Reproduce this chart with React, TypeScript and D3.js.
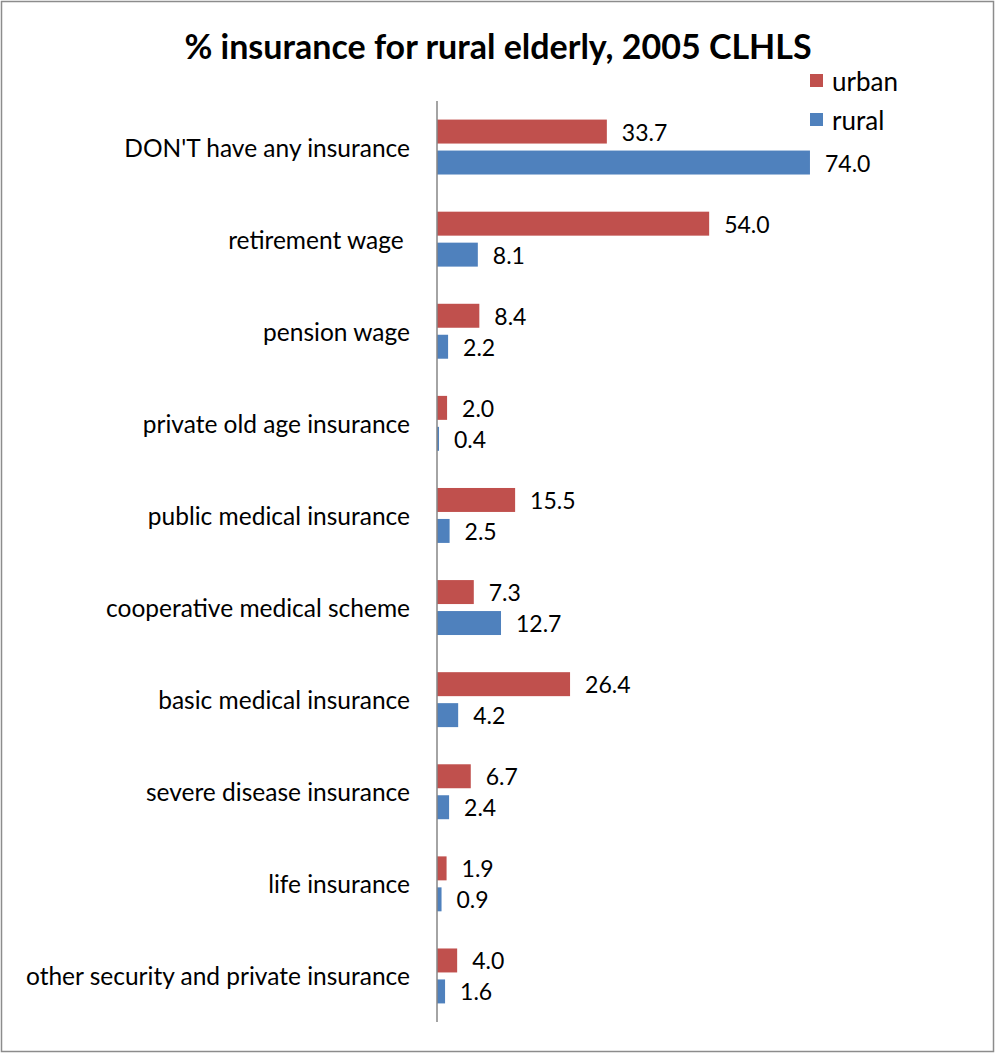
import React from "react";
import * as d3 from "d3";

const categories = [
  "DON'T have any insurance",
  "retirement wage ",
  "pension wage",
  "private old age insurance",
  "public medical insurance",
  "cooperative medical scheme",
  "basic medical insurance",
  "severe disease insurance",
  "life insurance",
  "other security and private insurance",
];
const urban = [33.7, 54.0, 8.4, 2.0, 15.5, 7.3, 26.4, 6.7, 1.9, 4.0];
const rural = [74.0, 8.1, 2.2, 0.4, 2.5, 12.7, 4.2, 2.4, 0.9, 1.6];
const seriesNames = ["urban", "rural"];
const seriesColors = ["#C0504D", "#4F81BD"];
const title = "% insurance for rural elderly, 2005 CLHLS";

const W = 995;
const H = 1053;
const FONT = "Lato, 'Liberation Sans', Arial, sans-serif";

export default function App() {
  const x = d3.scaleLinear().domain([0, 80]).range([437, 437 + 80 * 5.04]);
  const y = d3.scaleBand<string>().domain(categories).range([101, 1022]);
  const y1 = d3
    .scaleBand<string>()
    .domain(seriesNames)
    .range([0, y.step()])
    .paddingInner(0.226)
    .paddingOuter(0.6);
  const values = [urban, rural];

  return (
    <svg
      width={W}
      height={H}
      style={{ position: "absolute", left: 0, top: 0, background: "#fff" }}
      fontFamily={FONT}
    >
      <rect x={1.5} y={1.5} width={W - 3} height={H - 3} fill="#fff" stroke="#8c8c8c" strokeWidth={1.5} />
      <text x={498} y={59} textAnchor="middle" fontSize={34} fontWeight="bold" fill="#000">
        {title}
      </text>
      {categories.map((c, i) => (
        <g key={c}>
          <text
            x={410}
            y={(y(c) as number) + y.step() / 2}
            textAnchor="end"
            dominantBaseline="central"
            fontSize={24.5}
            fill="#000"
            style={{ whiteSpace: "pre" }}
          >
            {c}
          </text>
          {seriesNames.map((s, k) => {
            const v = values[k][i];
            const by = (y(c) as number) + (y1(s) as number);
            return (
              <g key={s}>
                <rect
                  x={x(0)}
                  y={by}
                  width={x(v) - x(0)}
                  height={y1.bandwidth()}
                  fill={seriesColors[k]}
                />
                <text
                  x={x(v) + 15}
                  y={by + y1.bandwidth() / 2}
                  dominantBaseline="central"
                  fontSize={23}
                  fill="#000"
                >
                  {d3.format(".1f")(v)}
                </text>
              </g>
            );
          })}
        </g>
      ))}
      <line x1={x(0)} x2={x(0)} y1={101} y2={1022} stroke="#868686" strokeWidth={1.5} />
      {seriesNames.map((s, k) => (
        <g key={s}>
          <rect x={810} y={74 + k * 39} width={13} height={13} fill={seriesColors[k]} />
          <text x={832} y={81 + k * 39} dominantBaseline="central" fontSize={26} fill="#000">
            {s}
          </text>
        </g>
      ))}
    </svg>
  );
}
